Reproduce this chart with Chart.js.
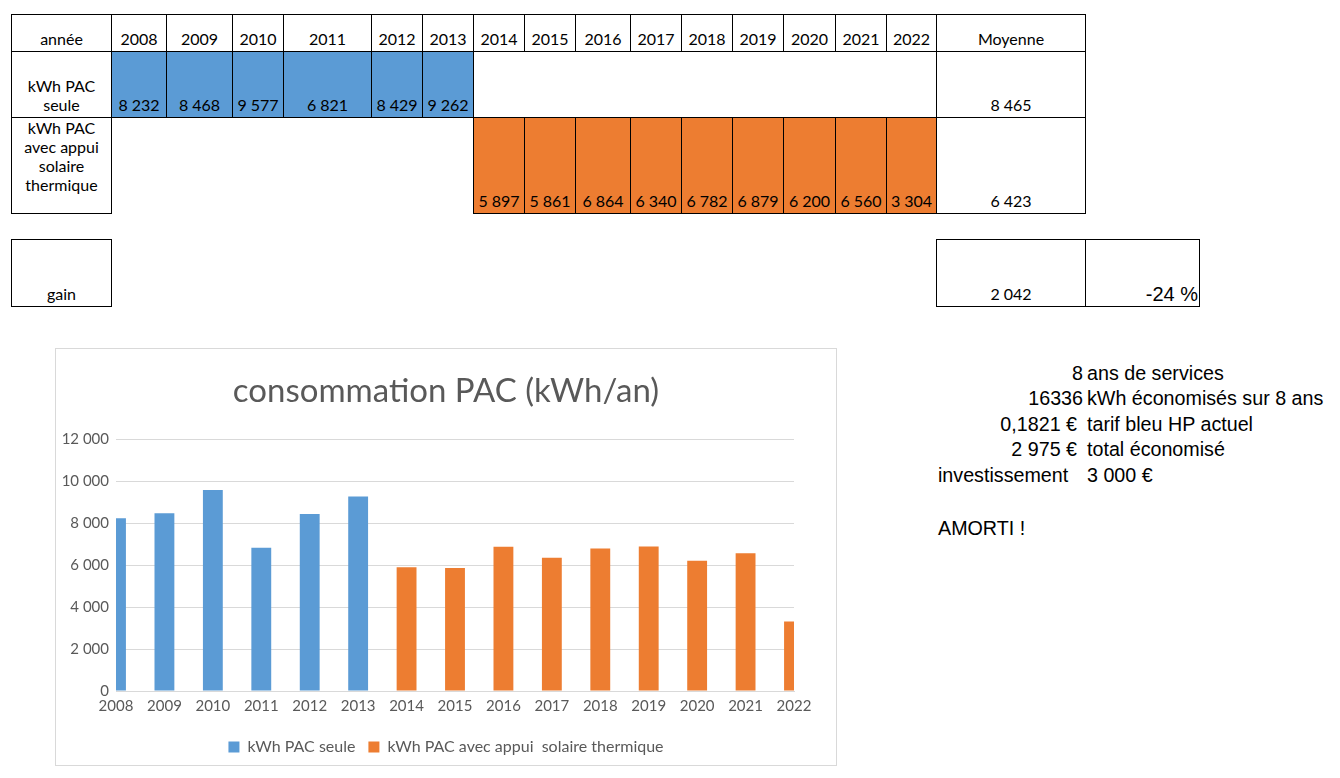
<!DOCTYPE html>
<html>
<head>
<meta charset="utf-8">
<script src="https://cdn.jsdelivr.net/npm/chart.js@4.4.1/dist/chart.umd.min.js"></script>
<style>
  body { margin: 0; background: #fff; width: 1340px; height: 778px; position: relative; overflow: hidden; font-family: Lato, sans-serif; }
  .c { position: absolute; box-sizing: border-box; font-size: 16px; line-height: 19px; text-align: center; color: #000;
       display: flex; flex-direction: column; justify-content: flex-end; padding-bottom: 3px; white-space: nowrap; }
  .b { border: 1px solid #000; }
  .t { position: absolute; font-family: 'Liberation Sans', Arial, sans-serif; font-size: 19.7px; line-height: 22px; color: #000; white-space: nowrap; }
  #box { position: absolute; left: 55px; top: 348px; width: 782px; height: 418px; border: 1px solid #d9d9d9; box-sizing: border-box; }
  #wrap { position: relative; width: 780px; height: 416px; }
</style>
</head>
<body>
<div id="box"><div id="wrap"><canvas id="chart"></canvas></div></div>
<script>
// data
const years = ['2008', '2009', '2010', '2011', '2012', '2013', '2014', '2015', '2016', '2017', '2018', '2019', '2020', '2021', '2022'];
const pacSeule = [8232, 8468, 9577, 6821, 8429, 9262, null, null, null, null, null, null, null, null, null];
const pacSolaire = [null, null, null, null, null, null, 5897, 5861, 6864, 6340, 6782, 6879, 6200, 6560, 3304];
const moyennes = [8465, 6423];
const gain = 2042;
const gainPct = '-24 %';
const yTicks = [0, 2000, 4000, 6000, 8000, 10000, 12000];

const BLUE = '#5B9BD5';
const ORANGE = '#ED7D31';
const fmt = n => String(n).replace(/\B(?=(\d{3})+(?!\d))/g, ' ');

// ---- spreadsheet table ----
const colX = [11, 111, 166, 232, 283, 371, 422, 473, 524, 575, 630, 681, 732, 783, 835, 886, 936, 1085, 1199];
const rowY = [14, 51, 117, 213];

function cell(x0, x1, y0, y1, html, opts = {}) {
  const d = document.createElement('div');
  d.className = 'c b';
  d.style.left = x0 + 'px';
  d.style.top = y0 + 'px';
  d.style.width = (x1 - x0 + 1) + 'px';
  d.style.height = (y1 - y0 + 1) + 'px';
  if (opts.bg) d.style.background = opts.bg;
  if (opts.top) { d.style.justifyContent = 'flex-start'; d.style.paddingBottom = '0'; }
  if (opts.style) Object.assign(d.style, opts.style);
  d.innerHTML = html;
  document.body.appendChild(d);
}

cell(colX[0], colX[1], rowY[0], rowY[1], 'année');
years.forEach((y, i) => cell(colX[i + 1], colX[i + 2], rowY[0], rowY[1], y));
cell(colX[16], colX[17], rowY[0], rowY[1], 'Moyenne');

cell(colX[0], colX[1], rowY[1], rowY[2], 'kWh PAC<br>seule');
pacSeule.forEach((v, i) => {
  if (v !== null) cell(colX[i + 1], colX[i + 2], rowY[1], rowY[2], fmt(v), { bg: BLUE });
});
cell(colX[16], colX[17], rowY[1], rowY[2], fmt(moyennes[0]));

cell(colX[0], colX[1], rowY[2], rowY[3], 'kWh PAC<br>avec appui<br>solaire<br>thermique', { top: true });
pacSolaire.forEach((v, i) => {
  if (v !== null) cell(colX[i + 1], colX[i + 2], rowY[2], rowY[3], fmt(v), { bg: ORANGE });
});
cell(colX[16], colX[17], rowY[2], rowY[3], fmt(moyennes[1]));

cell(colX[0], colX[1], 239, 306, 'gain');
cell(colX[16], colX[17], 239, 306, fmt(gain));
cell(colX[17], colX[18], 239, 306, gainPct, { style: { textAlign: 'right', fontFamily: "'Liberation Sans', Arial, sans-serif", fontSize: '20px', lineHeight: '22px', paddingRight: '1px', paddingBottom: '1px' } });

// ---- notes on the right ----
function txt(s, y, left, right) {
  const d = document.createElement('div');
  d.className = 't';
  d.style.top = (y - 11) + 'px';
  if (left !== undefined) d.style.left = left + 'px';
  if (right !== undefined) d.style.right = (1340 - right) + 'px';
  d.textContent = s;
  document.body.appendChild(d);
}
txt('8', 373, undefined, 1083);           txt('ans de services', 373, 1087);
txt('16336', 398, undefined, 1083);       txt('kWh économisés sur 8 ans', 398, 1087);
txt('0,1821 €', 424, undefined, 1077);    txt('tarif bleu HP actuel', 424, 1087);
txt('2 975 €', 449, undefined, 1077);     txt('total économisé', 449, 1087);
txt('investissement', 475, 938);          txt('3 000 €', 475, 1087);
txt('AMORTI !', 528, 938);

// ---- chart ----
Chart.defaults.font.family = 'Lato, sans-serif';
Chart.defaults.color = '#595959';

new Chart(document.getElementById('chart'), {
  type: 'bar',
  data: {
    labels: years,
    datasets: [
      { label: 'kWh PAC seule', data: pacSeule, backgroundColor: BLUE, categoryPercentage: 1, barPercentage: 0.41 },
      { label: 'kWh PAC avec appui  solaire thermique', data: pacSolaire, backgroundColor: ORANGE, categoryPercentage: 1, barPercentage: 0.41 }
    ]
  },
  options: {
    responsive: true,
    maintainAspectRatio: false,
    animation: false,
    layout: { padding: 0 },
    plugins: {
      title: {
        display: true,
        text: 'consommation PAC (kWh/an)',
        color: '#595959',
        font: { size: 33, weight: 'normal' },
        padding: { top: 23, bottom: 27.4 }
      },
      legend: {
        position: 'bottom',
        labels: { boxWidth: 11, boxHeight: 11, padding: 13, color: '#595959', font: { size: 16 } }
      },
      tooltip: { enabled: false }
    },
    scales: {
      x: {
        stacked: true,
        offset: false,
        grid: { display: false, drawTicks: false },
        border: { color: '#d9d9d9' },
        ticks: { color: '#595959', font: { size: 15 }, padding: 6, maxRotation: 0, autoSkip: false },
        afterFit: s => { s.height = 35; }
      },
      y: {
        stacked: true,
        min: 0,
        max: 12000,
        grid: { color: '#d9d9d9', drawTicks: false },
        border: { display: false },
        ticks: { color: '#595959', font: { size: 15 }, padding: 7, callback: v => fmt(v) },
        afterBuildTicks: s => { s.ticks = yTicks.map(v => ({ value: v })); },
        afterFit: s => { s.width = 60; }
      },
      // empty right margin so that title and legend stay centred on the whole box
      pad: {
        position: 'right',
        display: true,
        grid: { display: false, drawTicks: false },
        border: { display: false },
        ticks: { display: false },
        afterFit: s => { s.width = 42; }
      }
    }
  }
});
</script>
</body>
</html>
